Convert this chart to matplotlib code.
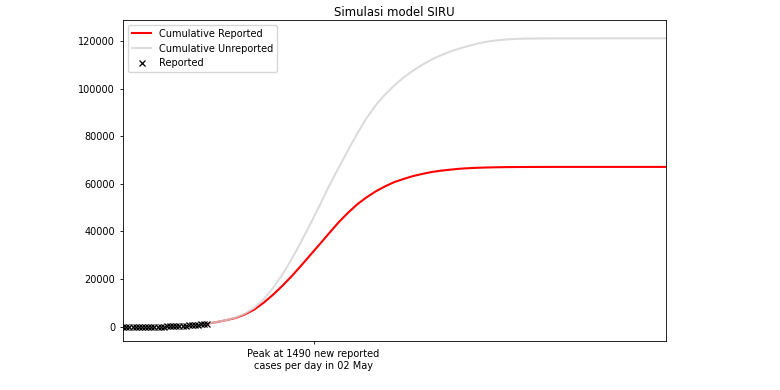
import matplotlib

matplotlib.use('Agg')

import matplotlib.pyplot as plt

# Scaled-down look of a default matplotlib figure
plt.rcParams['font.size'] = 7.0
plt.rcParams['axes.linewidth'] = 0.6
plt.rcParams['xtick.major.width'] = 0.6
plt.rcParams['ytick.major.width'] = 0.6
plt.rcParams['xtick.major.size'] = 2.4
plt.rcParams['ytick.major.size'] = 2.4

# Reported cumulative cases, day 0 .. 27
reported_days = list(range(28))
reported_cases = [2, 2, 2, 2, 4, 4, 6, 19, 27, 34, 34, 69, 96, 117, 134, 172,
                  227, 309, 369, 450, 514, 579, 686, 790, 893, 1046, 1155, 1285]

# Model output, every 3 days from the end of the data
model_days = list(range(27, 175, 3))
cumulative_reported = [
    1285, 2000, 2780, 3700, 5200, 7250, 10100, 13450, 17200, 21250,
    25650, 30200, 34700, 39300, 43800, 47800, 51400, 54350, 56900, 59000,
    60800, 62100, 63300, 64200, 65000, 65550, 65970, 66350, 66590, 66760,
    66870, 66960, 67020, 67050, 67070, 67080, 67090, 67095, 67100, 67100,
    67100, 67100, 67100, 67100, 67100, 67100, 67100, 67100, 67100, 67100,
]
cumulative_unreported = [
    1285, 2035, 2820, 3875, 5500, 7940, 11580, 16270, 21940, 28430,
    35640, 43240, 51050, 59150, 66700, 74000, 81100, 87600, 93100, 97600,
    101450, 104750, 107600, 110100, 112260, 114060, 115590, 116850, 118000, 119000,
    119750, 120250, 120620, 120820, 120950, 121000, 121030, 121050, 121060, 121065,
    121070, 121072, 121074, 121076, 121077, 121078, 121079, 121080, 121080, 121080,
]

peak_day = 61
peak_label = "Peak at 1490 new reported\ncases per day in 02 May"


def main():
    fig = plt.figure(figsize=(7.8, 3.9), dpi=100)
    ax = fig.add_axes([0.158, 0.126, 0.696, 0.823])

    ax.plot(model_days, cumulative_reported, color='red', lw=1.5,
            label='Cumulative Reported')
    ax.plot(model_days, cumulative_unreported, color='lightgray', lw=1.5,
            alpha=0.8, label='Cumulative Unreported')
    ax.plot(reported_days, reported_cases, 'kx', ms=4.5, mew=0.9,
            label='Reported')

    ax.set_xlim(0, model_days[-1])
    ax.set_ylim(-5900, 128800)
    ax.set_xticks([peak_day])
    ax.set_xticklabels([peak_label])
    ax.set_title("Simulasi model SIRU", fontsize=8.4, pad=2.5)
    ax.legend(loc='upper left', fontsize=7.0)

    fig.savefig('out.png', dpi=100)


if __name__ == "__main__":
    main()
